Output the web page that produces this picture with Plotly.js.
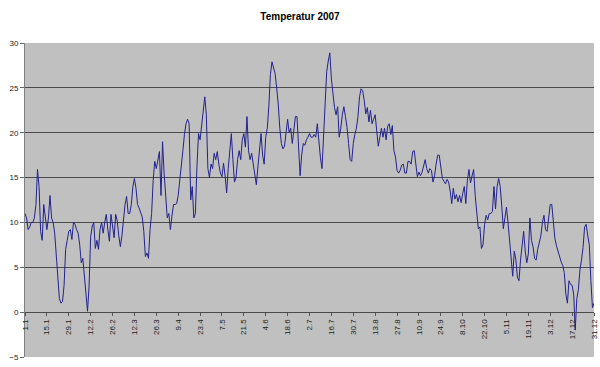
<!DOCTYPE html>
<html>
<head>
<meta charset="utf-8">
<script src="https://cdn.plot.ly/plotly-3.0.1.min.js"></script>
<style>html,body{margin:0;padding:0;background:#fff;}#chart{width:600px;height:367px;}</style>
</head>
<body>
<div id="chart"></div>
<script>
// Daily temperatures 2007 (index 0 = 1.1, index 364 = 31.12)
const temps = [
  11, 10.5, 9.2, 9.5, 10, 10, 10.5, 12, 15.9, 14,
  9, 8, 12, 10.5, 9.2, 10.5, 13, 10.5, 10, 8.8,
  6, 4, 1.5, 1, 1.2, 3, 7, 8, 9, 9.2,
  8.1, 10, 9.8, 9.2, 8.8, 7.5, 5.5, 6, 4, 1.5,
  0.1, 2.9, 8.4, 9.6, 10, 7.1, 8, 7, 9.2, 10,
  8.8, 10, 10.9, 9.2, 7.9, 10.9, 9.5, 8.3, 10.9, 10.2,
  8.5, 7.3, 8.5, 10.5, 12, 12.9, 11, 11, 12, 14,
  14.9, 13.8, 12, 11.6, 11.2, 10.6, 9, 6.2, 6.6, 6,
  9.2, 11, 14.7, 16.8, 16, 16.8, 17.9, 13, 19, 15.5,
  13, 10.5, 11, 9.2, 10.7, 12, 12, 12.1, 13, 14.5,
  16.2, 18, 19.8, 21, 21.5, 21, 12.5, 14, 10.5, 11,
  16.2, 19.9, 19.2, 21, 22.5, 24, 22, 16, 15, 16.5,
  16, 17.7, 17, 17.9, 16.5, 15.5, 15.1, 16.6, 15.2, 13.3,
  16, 18.5, 19.9, 17, 14.5, 15, 17, 18, 17, 19.2,
  19.9, 18.4, 21.8, 18, 17, 17.7, 16.5, 15.3, 14.2, 16.2,
  18.1, 19.9, 17.5, 16.5, 19.5, 20.5, 23, 26.5, 27.9, 27.3,
  26.6, 25, 23.2, 20.5, 18.8, 18.2, 18.5, 20, 21.5, 20,
  20.5, 18.8, 20.5, 21.8, 21.8, 18.1, 15.2, 17.5, 18.8, 18.6,
  19.2, 19.5, 19.9, 19.5, 19.5, 19.8, 19.5, 21, 19, 17.2,
  16, 19.2, 22.8, 26.8, 28, 28.9, 26, 24, 22.8, 22,
  22.9, 19.5, 20.5, 22, 22.9, 21.8, 20.6, 18.8, 17, 16.8,
  18.8, 19.8, 20.5, 21.8, 24, 24.9, 24.7, 23.6, 22.1, 22.8,
  21.2, 22.5, 21, 21.5, 22, 20.2, 18.5, 19.5, 20.5, 19.5,
  20.5, 19.2, 20.7, 21, 19.8, 20.8, 18, 17.3, 15.8, 15.5,
  15.8, 16.4, 16.5, 15.5, 15.5, 16.8, 16.8, 16.5, 17.9, 18,
  16.2, 15.1, 15.6, 15.2, 15.6, 16.5, 17, 16, 15.5, 16,
  15.8, 14.5, 15.2, 16.5, 17.5, 17.5, 16, 14.9, 14.6, 14.3,
  14.8, 14.5, 13.5, 12.1, 13.8, 12.6, 13.1, 12.3, 13, 12.2,
  13.2, 14, 12.1, 14.7, 15.9, 14.4, 15.2, 15.9, 13, 10.8,
  9.3, 9.5, 7.1, 7.5, 9.8, 10.8, 10.3, 11, 11, 11.2,
  14, 11.5, 14, 14.9, 14, 11.8, 9.3, 10.5, 11.7, 10,
  8, 6, 4, 6.8, 5.9, 3.9, 3.5, 5.8, 7.5, 9,
  6.8, 5.5, 6.5, 10.5, 8, 7.3, 6, 5.8, 7, 7.6,
  8.5, 10, 10.8, 9.2, 9, 10.5, 12, 12, 10, 8.2,
  7.4, 6.7, 6, 5.6, 5.2, 4.4, 2, 1, 3.5, 3.1,
  3, 2, -2, 1.5, 2.5, 4.7, 5.8, 7.2, 9.5, 9.8,
  8.5, 7.5, 3.5, 0.5, 1
];
const dayIndex = temps.map((_, i) => i);
const tickLabels = ["1.1","15.1","29.1","12.2","26.2","12.3","26.3","9.4","23.4","7.5","21.5","4.6","18.6","2.7","16.7","30.7","13.8","27.8","10.9","24.9","8.10","22.10","5.11","19.11","3.12","17.12","31.12"];
const tickPositions = tickLabels.map((_, i) => i * 14);
const yTicks = [-5, 0, 5, 10, 15, 20, 25, 30];

const FONT = "Liberation Sans, Arial, sans-serif";

Plotly.newPlot("chart", [{
  type: "scatter",
  mode: "lines",
  x: dayIndex,
  y: temps,
  line: {color: "#22228f", width: 1},
  hoverinfo: "skip"
}], {
  width: 600,
  height: 367,
  margin: {l: 25, r: 6, t: 43, b: 10, pad: 0},
  paper_bgcolor: "#ffffff",
  plot_bgcolor: "#c0c0c0",
  showlegend: false,
  title: {
    text: "<b>Temperatur 2007</b>",
    font: {family: FONT, size: 10, color: "#000"},
    x: 0.5, xanchor: "center", y: 0.955, yanchor: "middle"
  },
  xaxis: {
    range: [0, 364],
    anchor: "free",
    position: 5 / 35,
    tickmode: "array",
    tickvals: tickPositions,
    ticktext: tickLabels,
    tickangle: -90,
    ticks: "outside",
    ticklen: 3,
    tickcolor: "#555",
    showline: true,
    linecolor: "#4a4a4a",
    linewidth: 1,
    showgrid: false,
    zeroline: false,
    tickfont: {family: FONT, size: 8, color: "#222"}
  },
  yaxis: {
    range: [-5, 30],
    tickmode: "array",
    tickvals: yTicks,
    ticks: "outside",
    ticklen: 4,
    tickcolor: "#666",
    showline: true,
    linecolor: "#808080",
    linewidth: 1,
    showgrid: true,
    gridcolor: "#4a4a4a",
    gridwidth: 1,
    zeroline: false,
    tickfont: {family: FONT, size: 8, color: "#222"}
  }
}, {displayModeBar: false, staticPlot: true});
</script>
</body>
</html>
